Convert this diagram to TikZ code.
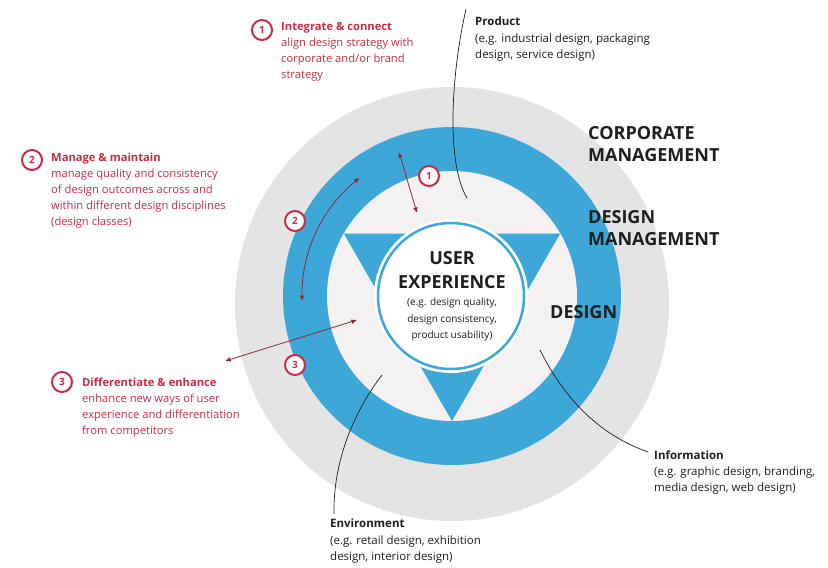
\documentclass[tikz,border=0pt]{standalone}
\usepackage{fontspec}
\setmainfont{Open Sans}
\usetikzlibrary{arrows,positioning}
\definecolor{ringblue}{HTML}{3DA8D8}
\definecolor{corpgray}{HTML}{E4E4E4}
\definecolor{palefill}{HTML}{F3F1F1}
\definecolor{notered}{HTML}{C92C42}
\definecolor{arrowred}{HTML}{8C2A38}
\definecolor{labelblack}{HTML}{1E1E1E}
\tikzset{
    %Define standard arrow tip
    >=stealth',
    %Define style for numbered circles
    numcirc/.style={
           circle,
           draw=notered, line width=2pt,
           fill=white,
           text=notered,
           minimum size=20pt,
           inner sep=0pt,
           font=\fontsize{10}{10}\selectfont\bfseries},
    %Define style for red notes
    rednote/.style={
           anchor=north west,
           inner sep=0pt,
           align=left,
           text=notered,
           font=\fontsize{11.2}{16}\selectfont},
    %Define style for black notes
    blacknote/.style={
           anchor=north west,
           inner sep=0pt,
           align=left,
           text=labelblack,
           font=\fontsize{11.5}{16.3}\selectfont},
    %Define style for ring labels
    levellabel/.style={
           anchor=north west,
           inner sep=0pt,
           align=left,
           text=labelblack,
           font=\fontsize{18}{22}\selectfont\bfseries},
    % Define arrow style
    pil/.style={
           <->,
           draw=arrowred,
           line width=0.8pt,
           shorten <=1pt,
           shorten >=1pt},
    leader/.style={
           draw=labelblack,
           line width=0.7pt}
}
\begin{document}
\begin{tikzpicture}[x=1pt,y=-1pt]
\useasboundingbox (0,0) rectangle (828,568);
 %rings
\coordinate (c) at (452,296);
\fill[corpgray] (452,304) circle (217);
\fill[ringblue] (c) circle (169);
\fill[palefill] (c) circle (125);
\fill[ringblue] ([shift={(210:125)}]c) -- ([shift={(330:125)}]c) -- ([shift={(90:125)}]c) -- cycle;
\fill[white] (451,296) circle (77);
\draw[ringblue, line width=2.5pt, fill=white] (451,296) circle (73);

 %labels
\node[levellabel] (corp) at (588,126.5) {CORPORATE\\MANAGEMENT};
\node[levellabel] (dm) at (588,210.5) {DESIGN\\MANAGEMENT};
\node[levellabel] (des) at (550,305.5) {DESIGN};
\node[anchor=north, inner sep=0pt, align=center, text=labelblack,
      font=\fontsize{18}{24}\selectfont\bfseries] (ux) at (452,251.5) {USER\\EXPERIENCE};
\node[below=9pt of ux, inner sep=0pt, align=center, text=labelblack,
      font=\fontsize{10}{16.5}\selectfont] (uxsub) {(e.g. design quality,\\design consistency,\\product usability)};

 %notes
\node[blacknote] (prod) at (475,17) {\textbf{Product}\\(e.g. industrial design, packaging\\design, service design)};
\node[blacknote] (info) at (654,450) {\textbf{Information}\\(e.g. graphic design, branding,\\media design, web design)};
\node[blacknote] (env) at (330,519) {\textbf{Environment}\\(e.g. retail design, exhibition\\design, interior design)};
\node[rednote] (t1) at (281,22) {\textbf{Integrate \& connect}\\align design strategy with\\corporate and/or brand\\strategy};
\node[rednote] (t2) at (51,153) {\textbf{Manage \& maintain}\\manage quality and consistency\\of design outcomes across and\\within different design disciplines\\(design classes)};
\node[rednote] (t3) at (82,378) {\textbf{Differentiate \& enhance}\\enhance new ways of user\\experience and differentiation\\from competitors};

 %leader lines
\coordinate (prodend) at (467,198);
\coordinate (infoend) at (540,350);
\coordinate (envend) at (382,375);
\draw[leader] ([xshift=-9pt,yshift=8pt]prod.north west) .. controls (450,80) and (447,165) .. (prodend);
\draw[leader] ([xshift=-6pt,yshift=-2pt]info.north west) .. controls (600,435) and (565,400) .. (infoend);
\draw[leader] ([xshift=4pt,yshift=5pt]env.north west) .. controls (333,460) and (355,410) .. (envend);

 %arrows
\coordinate (a1s) at (399,152);
\coordinate (a1e) at (417,213);
\coordinate (a3s) at (225,361);
\coordinate (a3e) at (357,320);
\draw[pil] (a1s) -- (a1e);
\draw[pil] ([shift={(-128:150)}]c) arc (-128:-182:150);
\draw[pil] (a3s) -- (a3e);

 %numbers
\node[numcirc] (n1) at (262,30) {1};
\node[numcirc] (n2) at (32,160) {2};
\node[numcirc] (n3) at (62,382) {3};
\node[numcirc] (d1) at (429,176) {1};
\node[numcirc] (d2) at (295,221) {2};
\node[numcirc] (d3) at (295,365) {3};
\end{tikzpicture}
\end{document}
